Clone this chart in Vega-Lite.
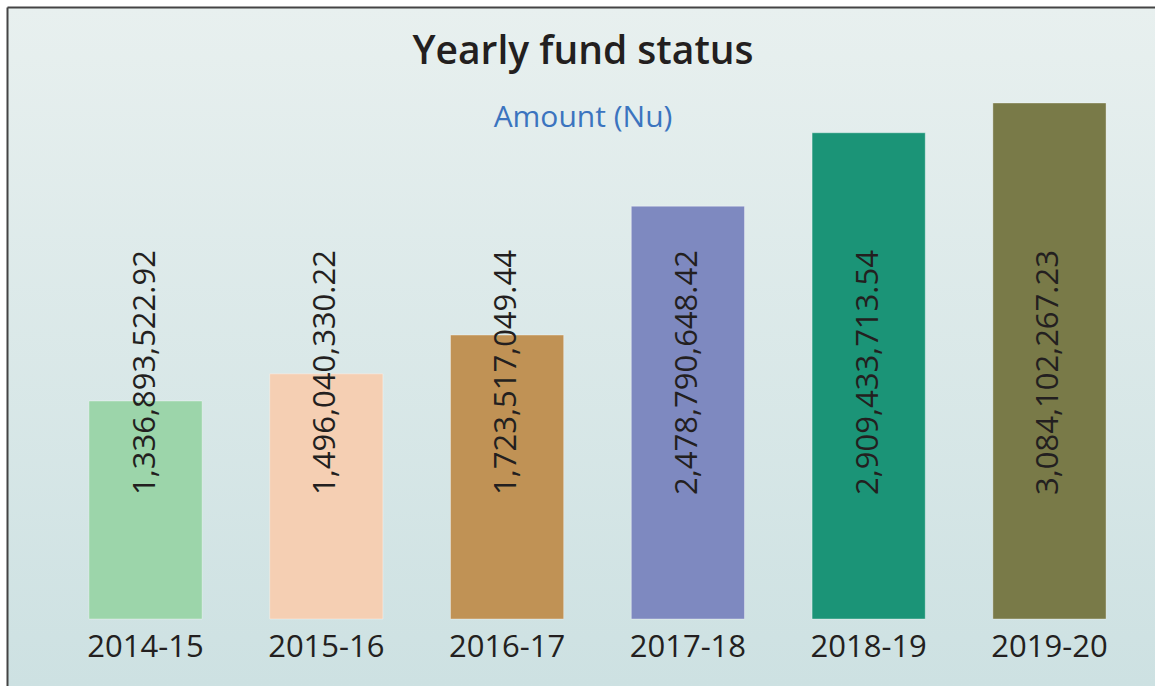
{
  "$schema": "https://vega.github.io/schema/vega-lite/v6.json",
  "autosize": "none",
  "padding": {"left": 7, "top": 7, "right": 0, "bottom": 0},
  "width": 1148,
  "height": 679,
  "background": "white",
  "config": {
    "view": {
      "stroke": null,
      "fill": {"gradient": "linear", "x1": 0, "y1": 0, "x2": 0, "y2": 1,
        "stops": [{"offset": 0, "color": "#e8f0ef"}, {"offset": 1, "color": "#cde1e2"}]}
    }
  },
  "title": {
    "text": "Yearly fund status",
    "subtitle": "Amount (Nu)",
    "anchor": "middle",
    "offset": 0,
    "dy": 126,
    "dx": 2,
    "font": "Open Sans",
    "fontSize": 39,
    "fontWeight": 600,
    "color": "#231f20",
    "subtitleFont": "Open Sans",
    "subtitleFontSize": 30,
    "subtitleColor": "#3b74bf",
    "subtitlePadding": 31
  },
  "data": {
    "values": [
      {"year": "2014-15", "amount": 1336893522.92},
      {"year": "2015-16", "amount": 1496040330.22},
      {"year": "2016-17", "amount": 1723517049.44},
      {"year": "2017-18", "amount": 2478790648.42},
      {"year": "2018-19", "amount": 2909433713.54},
      {"year": "2019-20", "amount": 3084102267.23}
    ]
  },
  "encoding": {
    "x": {
      "field": "year", "type": "nominal", "sort": null,
      "scale": {"paddingInner": 0.374, "paddingOuter": 0.362, "align": 0.626},
      "axis": {"orient": "top", "domain": true, "domainColor": "#444444", "domainWidth": 2,
        "ticks": false, "labels": false, "title": null, "grid": false}
    }
  },
  "layer": [
    {
      "mark": {"type": "bar", "stroke": "#ffffff", "strokeOpacity": 0.35, "strokeWidth": 1},
      "encoding": {
        "y": {
          "field": "amount", "type": "quantitative",
          "scale": {"domain": [-334100000, 3646900000], "nice": false, "zero": false},
          "axis": {"orient": "left", "domain": true, "domainColor": "#444444", "domainWidth": 2,
            "ticks": false, "labels": false, "title": null, "grid": false}
        },
        "y2": {"datum": 58700000},
        "color": {
          "field": "year", "type": "nominal", "legend": null,
          "scale": {
            "domain": ["2014-15", "2015-16", "2016-17", "2017-18", "2018-19", "2019-20"],
            "range": ["#9cd5aa", "#f5cfb3", "#c09255", "#7e89c0", "#1b9477", "#797a48"]
          }
        }
      }
    },
    {
      "mark": {"type": "text", "angle": 270, "align": "left", "baseline": "middle",
        "font": "Open Sans", "fontSize": 31, "color": "#231f20"},
      "encoding": {
        "y": {"datum": 785700000},
        "text": {"field": "amount", "type": "quantitative", "format": ",.2f"}
      }
    },
    {
      "mark": {"type": "text", "align": "center", "baseline": "middle",
        "font": "Open Sans", "fontSize": 31, "color": "#231f20"},
      "encoding": {
        "y": {"datum": -111300000},
        "text": {"field": "year", "type": "nominal"}
      }
    }
  ]
}
